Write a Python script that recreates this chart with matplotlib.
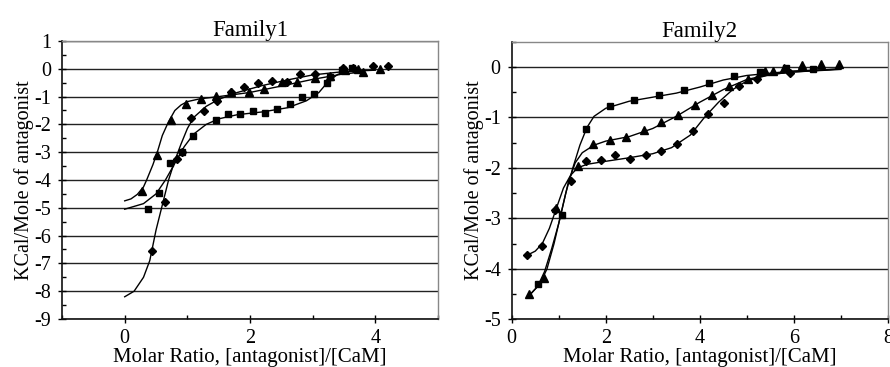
import matplotlib.pyplot as plt
from matplotlib.ticker import MultipleLocator

plt.rcParams['font.family'] = ['Liberation Serif', 'DejaVu Serif']
plt.rcParams['axes.unicode_minus'] = False

# ---- Family1 data (points) ----
f1_tri_x = [0.27, 0.52, 0.74, 0.98, 1.22, 1.46, 1.70, 1.99, 2.23, 2.51, 2.75, 3.04, 3.27, 3.52, 3.73, 3.81, 4.08]
f1_tri_y = [-4.38, -3.10, -1.83, -1.26, -1.09, -0.99, -0.84, -0.85, -0.73, -0.49, -0.48, -0.32, -0.25, -0.06, -0.01, -0.13, -0.01]
f1_dia_x = [0.44, 0.64, 0.83, 0.91, 1.05, 1.26, 1.47, 1.69, 1.90, 2.13, 2.35, 2.59, 2.80, 3.03, 3.49, 3.64, 3.96, 4.20]
f1_dia_y = [-6.57, -4.79, -3.25, -3.00, -1.77, -1.51, -1.17, -0.85, -0.66, -0.51, -0.43, -0.46, -0.18, -0.18, 0.03, 0.03, 0.11, 0.09]
f1_sq_x = [0.37, 0.55, 0.73, 0.91, 1.09, 1.46, 1.65, 1.84, 2.04, 2.24, 2.43, 2.64, 2.83, 3.02, 3.23, 3.28, 3.47, 3.63]
f1_sq_y = [-5.03, -4.45, -3.38, -2.99, -2.41, -1.83, -1.63, -1.63, -1.52, -1.60, -1.45, -1.26, -1.02, -0.90, -0.51, -0.31, -0.06, 0.03]

# ---- Family1 fitted curves ----
f1_tri_fit_x = [0.0, 0.1, 0.2, 0.3, 0.35, 0.45, 0.52, 0.6, 0.7, 0.8, 0.9, 1.0, 1.2, 1.5, 2.0, 2.5, 3.0, 3.5, 3.8]
f1_tri_fit_y = [-4.75, -4.68, -4.52, -4.25, -4.0, -3.45, -3.0, -2.4, -1.9, -1.5, -1.3, -1.18, -1.08, -1.0, -0.85, -0.62, -0.38, -0.18, -0.12]
f1_dia_fit_x = [0.0, 0.15, 0.3, 0.4, 0.5, 0.6, 0.7, 0.8, 0.9, 1.0, 1.1, 1.3, 1.5, 1.8, 2.2, 2.6, 3.0, 3.5, 4.0]
f1_dia_fit_y = [-8.2, -8.0, -7.5, -6.9, -5.8, -4.9, -4.0, -3.3, -2.7, -2.15, -1.75, -1.35, -1.1, -0.85, -0.6, -0.4, -0.22, -0.1, -0.05]
f1_sq_fit_x = [0.0, 0.3, 0.5, 0.65, 0.8, 0.95, 1.1, 1.3, 1.5, 1.8, 2.2, 2.6, 2.9, 3.1, 3.25, 3.4, 3.6]
f1_sq_fit_y = [-5.05, -4.85, -4.5, -4.0, -3.4, -2.8, -2.35, -2.0, -1.8, -1.65, -1.55, -1.4, -1.15, -0.85, -0.45, -0.2, -0.08]

# ---- Family2 data (points) ----
f2_sq_x = [0.55, 1.06, 1.57, 2.08, 2.60, 3.13, 3.66, 4.20, 4.73, 5.29, 5.83, 6.40]
f2_sq_y = [-4.30, -2.94, -1.23, -0.78, -0.65, -0.56, -0.46, -0.31, -0.18, -0.10, -0.03, -0.04]
f2_tri_x = [0.37, 0.69, 0.95, 1.40, 1.73, 2.08, 2.44, 2.81, 3.17, 3.53, 3.90, 4.26, 4.63, 5.02, 5.39, 5.55, 5.80, 6.18, 6.57, 6.96]
f2_tri_y = [-4.50, -4.19, -2.80, -1.97, -1.53, -1.45, -1.39, -1.25, -1.10, -0.96, -0.76, -0.55, -0.38, -0.24, -0.08, -0.08, -0.02, 0.03, 0.05, 0.05]
f2_dia_x = [0.32, 0.64, 0.93, 1.26, 1.57, 1.89, 2.20, 2.52, 2.85, 3.18, 3.51, 3.85, 4.17, 4.52, 4.84, 5.22, 5.92]
f2_dia_y = [-3.73, -3.55, -2.84, -2.26, -1.87, -1.85, -1.75, -1.83, -1.74, -1.67, -1.52, -1.27, -0.94, -0.71, -0.38, -0.24, -0.12]

# ---- Family2 fitted curves ----
f2_sq_fit_x = [0.4, 0.55, 0.7, 0.85, 1.0, 1.15, 1.3, 1.45, 1.6, 1.75, 2.0, 2.5, 3.0, 3.5, 4.0, 4.5, 5.0, 6.0, 7.0]
f2_sq_fit_y = [-4.5, -4.35, -4.05, -3.6, -3.1, -2.5, -2.0, -1.55, -1.2, -0.98, -0.82, -0.68, -0.6, -0.52, -0.4, -0.26, -0.17, -0.08, -0.04]
f2_tri_fit_x = [0.4, 0.6, 0.75, 0.9, 1.05, 1.2, 1.35, 1.5, 1.75, 2.0, 2.5, 3.0, 3.5, 4.0, 4.5, 5.0, 5.5, 6.0, 7.0]
f2_tri_fit_y = [-4.5, -4.3, -4.0, -3.5, -2.9, -2.3, -1.9, -1.7, -1.55, -1.47, -1.38, -1.22, -0.98, -0.7, -0.45, -0.25, -0.15, -0.1, -0.04]
f2_dia_fit_x = [0.35, 0.5, 0.65, 0.8, 0.95, 1.1, 1.25, 1.4, 1.6, 2.0, 2.5, 3.0, 3.4, 3.8, 4.1, 4.4, 4.7, 5.0, 5.5, 6.0, 7.0]
f2_dia_fit_y = [-3.72, -3.65, -3.5, -3.2, -2.8, -2.4, -2.15, -2.0, -1.93, -1.87, -1.8, -1.72, -1.6, -1.35, -1.0, -0.7, -0.45, -0.28, -0.15, -0.1, -0.05]

fig = plt.figure(figsize=(8.9, 3.67), dpi=100)
ax1 = fig.add_axes([0.0697, 0.1308, 0.4225, 0.7575])
ax2 = fig.add_axes([0.575, 0.1300, 0.4225, 0.7565])


def style(ax, xlim, ylim, title):
    ax.set_xlim(*xlim)
    ax.set_ylim(*ylim)
    ax.xaxis.set_major_locator(MultipleLocator(2))
    ax.xaxis.set_minor_locator(MultipleLocator(1))
    ax.yaxis.set_major_locator(MultipleLocator(1))
    ax.yaxis.set_minor_locator(MultipleLocator(0.5))
    ax.tick_params(which='major', direction='inout', length=6, width=1, labelsize=14.5)
    ax.tick_params(axis='x', which='major', pad=4)
    ax.tick_params(axis='y', which='major', pad=5)
    ax.tick_params(which='minor', direction='in', length=3, width=1)
    ax.yaxis.grid(True, which='major', color='#222222', linewidth=1)
    ax.set_axisbelow(True)
    for s in ['left', 'bottom']:
        ax.spines[s].set_color('#111111')
        ax.spines[s].set_linewidth(1.2)
    for s in ['top', 'right']:
        ax.spines[s].set_color('#888888')
        ax.spines[s].set_linewidth(1)
    ax.set_title(title, fontsize=16.5, pad=3)
    ax.set_xlabel('Molar Ratio, [antagonist]/[CaM]', fontsize=15, labelpad=0)
    ax.set_ylabel('KCal/Mole of antagonist', fontsize=14.5, labelpad=0)


def draw(ax, fx, fy, px, py, marker, ms):
    ax.plot(fx, fy, color='black', linewidth=1)
    ax.plot(px, py, linestyle='none', marker=marker, color='black', markersize=ms)


draw(ax1, f1_tri_fit_x, f1_tri_fit_y, f1_tri_x, f1_tri_y, '^', 5.5)
draw(ax1, f1_dia_fit_x, f1_dia_fit_y, f1_dia_x, f1_dia_y, 'D', 4.5)
draw(ax1, f1_sq_fit_x, f1_sq_fit_y, f1_sq_x, f1_sq_y, 's', 4.5)
style(ax1, (-1, 5), (-9, 1), 'Family1')

draw(ax2, f2_sq_fit_x, f2_sq_fit_y, f2_sq_x, f2_sq_y, 's', 4.5)
draw(ax2, f2_tri_fit_x, f2_tri_fit_y, f2_tri_x, f2_tri_y, '^', 5.5)
draw(ax2, f2_dia_fit_x, f2_dia_fit_y, f2_dia_x, f2_dia_y, 'D', 4.5)
style(ax2, (0, 8), (-5, 0.5), 'Family2')

fig.savefig('out.png', dpi=100)
